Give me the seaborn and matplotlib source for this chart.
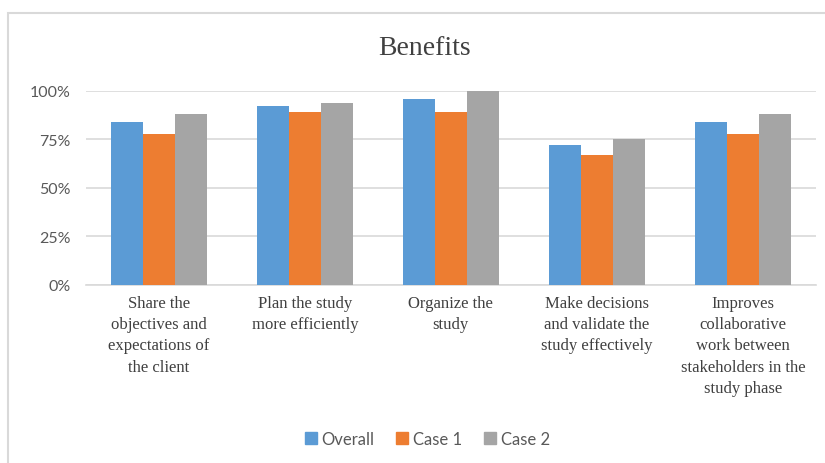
import matplotlib
matplotlib.use("Agg")
import matplotlib.pyplot as plt
import matplotlib.patches as mpatches
import pandas as pd
import seaborn as sns

categories = [
    "Share the\nobjectives and\nexpectations of\nthe client",
    "Plan the study\nmore efficiently",
    "Organize the\nstudy",
    "Make decisions\nand validate the\nstudy effectively",
    "Improves\ncollaborative\nwork between\nstakeholders in the\nstudy phase",
]
series = ["Overall", "Case 1", "Case 2"]
overall = [0.84, 0.92, 0.96, 0.72, 0.84]
case1 = [0.78, 0.89, 0.89, 0.67, 0.78]
case2 = [0.88, 0.94, 1.00, 0.75, 0.88]
yticks = [0, 0.25, 0.5, 0.75, 1.0]
ytick_labels = ["0%", "25%", "50%", "75%", "100%"]
colors = ["#5B9BD5", "#ED7D31", "#A5A5A5"]

rows = []
for name, vals in zip(series, [overall, case1, case2]):
    for c, v in zip(categories, vals):
        rows.append({"category": c, "series": name, "value": v})
df = pd.DataFrame(rows)

sns.set_style("white")
fig = plt.figure(figsize=(8.25, 4.64), dpi=100)
ax = fig.add_axes([0.104, 0.384, 0.885, 0.418])

sns.barplot(data=df, x="category", y="value", hue="series", palette=colors,
            order=categories, hue_order=series, width=0.66, saturation=1,
            errorbar=None, linewidth=0, ax=ax, zorder=3)

ax.set_ylim(0, 1.0)
ax.set_xlim(-0.5, len(categories) - 0.5)
ax.set_yticks(yticks)
ax.set_yticklabels(ytick_labels, family="Lato", fontsize=11.5, color="#595959")
ax.set_xticks(range(len(categories)))
ax.set_xticklabels(categories, family="Liberation Serif", fontsize=12,
                   color="#404040", linespacing=1.45)
ax.tick_params(axis="both", length=0)
ax.tick_params(axis="y", pad=11)
ax.tick_params(axis="x", pad=7)
ax.set_xlabel("")
ax.set_ylabel("")
ax.grid(axis="y", color="#d9d9d9", linewidth=1.2, zorder=0)
ax.set_axisbelow(True)
for s in ["top", "right", "left"]:
    ax.spines[s].set_visible(False)
ax.spines["bottom"].set_color("#d9d9d9")
ax.spines["bottom"].set_linewidth(1.2)

fig.text(0.514, 0.895, "Benefits", family="Liberation Serif", fontsize=20,
         color="#404040", ha="center", va="center")

handles = [mpatches.Patch(color=c, label=s) for c, s in zip(colors, series)]
ax.legend_.remove()
leg = fig.legend(handles=handles, loc="center", bbox_to_anchor=(0.518, 0.052),
                 ncol=3, frameon=False, handlelength=0.7, handleheight=0.7,
                 handletextpad=0.3, columnspacing=1.3,
                 prop={"family": "Lato", "size": 12})
for t in leg.get_texts():
    t.set_color("#595959")

fig.patches.append(mpatches.Rectangle((8 / 825, -0.1), 1.0, 1 - 14 / 464 + 0.1,
                                      transform=fig.transFigure, fill=False,
                                      edgecolor="#d9d9d9", linewidth=1.5))

fig.savefig("out.png", dpi=100)
